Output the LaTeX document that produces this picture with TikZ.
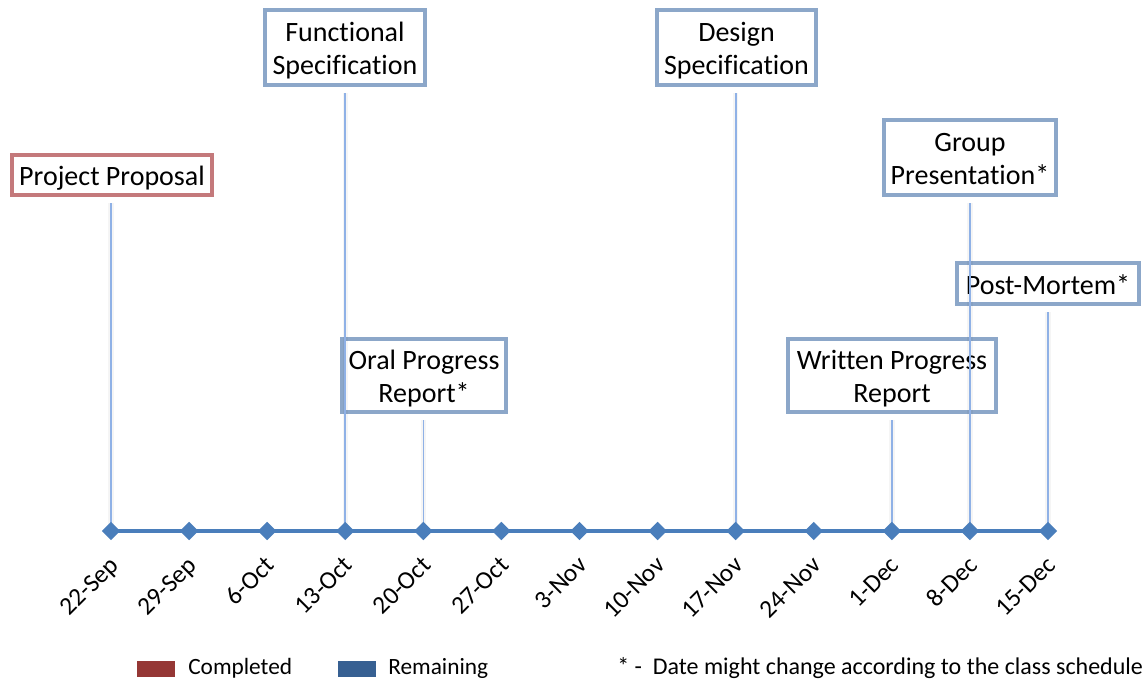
\documentclass[tikz,border=0pt]{standalone}
\usepackage{fontspec}
\setmainfont[Ligatures=NoCommon]{Carlito}
\usetikzlibrary{shapes.geometric}
\definecolor{axisblue}{HTML}{4A7EBB}
\definecolor{boxblue}{HTML}{8CA7C9}
\definecolor{boxred}{HTML}{C4797B}
\definecolor{stemblue}{HTML}{8FB1E6}
\definecolor{keyred}{HTML}{953735}
\definecolor{keyblue}{HTML}{376092}
% centred text block for the milestone boxes, drawn a little low
\newcommand{\mstext}[1]{\raisebox{-3pt}[\height][\depth]{\begin{tabular}{@{}c@{}}#1\end{tabular}}}
\tikzset{
  milestone/.style={draw=boxblue, line width=3pt, fill=none, inner sep=0pt,
    font=\fontsize{21}{24.75}\selectfont},
  donebox/.style={milestone, draw=boxred},
  stem/.style={draw=stemblue, line width=1.25pt, shorten <=4.5pt},
  stemshade/.style={draw=black, opacity=0.04, line width=4pt, shorten <=4.5pt, xshift=2.5pt},
  tickmark/.style={diamond, fill=axisblue, inner sep=0pt, minimum width=14pt, minimum height=14pt},
  datelabel/.style={rotate=45, anchor=mid east, inner sep=0pt, font=\fontsize{19}{22}\selectfont},
  keytext/.style={anchor=west, inner sep=0pt, font=\fontsize{17.5}{20}\selectfont}
}
\begin{document}
\begin{tikzpicture}[x=0.75pt, y=-0.75pt]
\useasboundingbox (0,0) rectangle (1146,686);

% weekly positions along the axis
\foreach \i in {1,...,13} {
  \coordinate (d\i) at ({111 + 78.083*(\i-1)}, 531);
}

% milestone boxes
\node[donebox, minimum width=200*0.75pt, minimum height=40*0.75pt] (pp) at (112,175) {\mstext{Project Proposal}};
\node[milestone, minimum width=160*0.75pt, minimum height=75*0.75pt] (fs) at (345,47.5) {\mstext{Functional\\Specification}};
\node[milestone, minimum width=164*0.75pt, minimum height=73*0.75pt] (op) at (424,375.5) {\mstext{Oral Progress\\Report*}};
\node[milestone, minimum width=159*0.75pt, minimum height=75*0.75pt] (ds) at (736.5,47.5) {\mstext{Design\\Specification}};
\node[milestone, minimum width=172*0.75pt, minimum height=75*0.75pt] (gp) at (970,157.5) {\mstext{Group\\Presentation*}};
\node[milestone, minimum width=182*0.75pt, minimum height=41*0.75pt] (pm) at (1048,283.5) {\mstext{Post-Mortem*}};
\node[milestone, minimum width=208*0.75pt, minimum height=73*0.75pt] (wp) at (892,375.5) {\mstext{Written Progress\\Report}};

% stems from each box down to its date
\foreach \b/\d in {pp/d1, fs/d4, op/d5, ds/d9, wp/d11, gp/d12, pm/d13} {
  \draw[stemshade] (\b.south -| \d) -- (\d);
  \draw[stem] (\b.south -| \d) -- (\d);
}

% axis
\draw[draw=axisblue, line width=3.5pt] (d1) -- (d13);
\foreach \i in {1,...,13} {
  \node[tickmark] (m\i) at (d\i) {};
}

% date labels
\foreach \i/\t in {1/22-Sep, 2/29-Sep, 3/6-Oct, 4/13-Oct, 5/20-Oct, 6/27-Oct, 7/3-Nov,
                   8/10-Nov, 9/17-Nov, 10/24-Nov, 11/1-Dec, 12/8-Dec, 13/15-Dec} {
  \node[datelabel] (l\i) at ([xshift=5pt, yshift=-25pt]d\i) {\t};
}

% legend
\node[fill=keyred, minimum width=28.5pt, minimum height=12pt, inner sep=0pt] (kc) at (156,669) {};
\node[keytext] (kct) at (188,668) {Completed};
\node[fill=keyblue, minimum width=28.5pt, minimum height=12pt, inner sep=0pt] (kr) at (357,669) {};
\node[keytext] (krt) at (388,668) {Remaining};
\node[keytext, font=\fontsize{18}{20}\selectfont] (note) at (617,668) {* -\ \ Date might change according to the class schedule};
\end{tikzpicture}
\end{document}
